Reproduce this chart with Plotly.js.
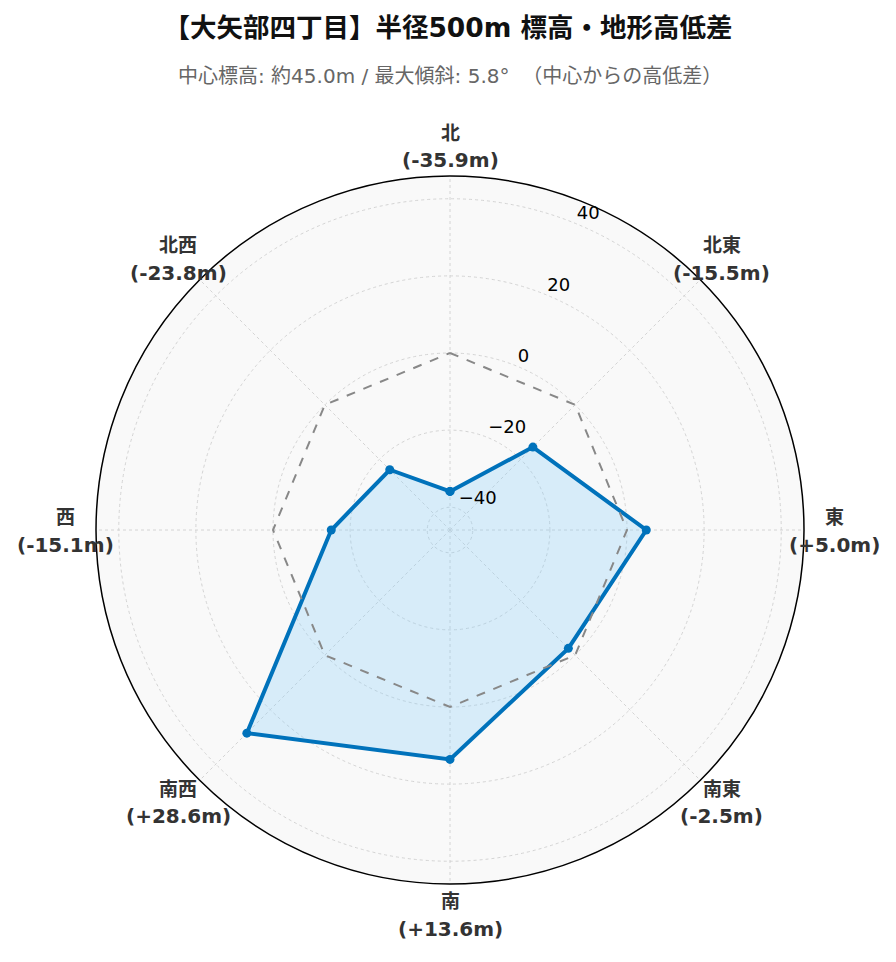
<!DOCTYPE html>
<html>
<head>
<meta charset="utf-8">
<script src="https://cdn.plot.ly/plotly-3.0.1.min.js"></script>
<style>html,body{margin:0;padding:0;background:#fff;}</style>
</head>
<body>
<div id="chart" style="width:896px;height:962px;"></div>
<script>
const directions = ["北", "北東", "東", "南東", "南", "南西", "西", "北西"];
const elevDiff = [-35.9, -15.5, 5.0, -2.5, 13.6, 28.6, -15.1, -23.8];
const reference = [0, 0, 0, 0, 0, 0, 0, 0];
const radialTicks = [-40, -20, 0, 20, 40];
const radialTickText = ["−40", "−20", "0", "20", "40"];

const rMax = 45.9;
const step = 360 / directions.length;
const thetaDeg = directions.map((d, i) => i * step);
const valueLabels = elevDiff.map(v => "(" + (v >= 0 ? "+" : "") + v.toFixed(1) + "m)");
const thetaClosed = thetaDeg.concat([thetaDeg[0]]);
const rClosed = elevDiff.concat([elevDiff[0]]);
const refClosed = reference.concat([reference[0]]);
const tickLabelAngle = step / 2;

const traces = [
  {
    type: "scatterpolar",
    r: rClosed,
    theta: thetaClosed,
    mode: "lines+markers",
    fill: "toself",
    fillcolor: "rgba(135,206,250,0.3)",
    line: {color: "#0072BB", width: 4},
    marker: {color: "#0072BB", size: 9},
    showlegend: false
  },
  {
    type: "scatterpolar",
    r: refClosed,
    theta: thetaClosed,
    mode: "lines",
    line: {color: "#888888", width: 2, dash: "dash"},
    hoverinfo: "skip",
    showlegend: false
  },
  {
    type: "scatterpolar",
    r: radialTicks,
    theta: radialTicks.map(() => tickLabelAngle),
    mode: "text",
    text: radialTickText,
    textposition: "top right",
    textfont: {family: "DejaVu Sans", size: 18, color: "#000000"},
    cliponaxis: false,
    hoverinfo: "skip",
    showlegend: false
  }
];

// direction labels placed just outside the polar circle (paper coords of the polar domain)
const labelK = 0.5424;
const annotations = [];
directions.forEach((d, i) => {
  const a = thetaDeg[i] * Math.PI / 180;
  const x = 0.5 + labelK * Math.sin(a);
  const y = 0.5 + labelK * Math.cos(a);
  annotations.push({
    text: "<b>" + d + "</b>", xref: "paper", yref: "paper", x: x, y: y,
    xanchor: "center", yanchor: "middle", yshift: 14.5, showarrow: false,
    font: {family: "Noto Sans CJK JP", size: 19, color: "#333333"}
  });
  annotations.push({
    text: "<b>" + valueLabels[i] + "</b>", xref: "paper", yref: "paper", x: x, y: y,
    xanchor: "center", yanchor: "middle", yshift: -14.5, showarrow: false,
    font: {family: "DejaVu Sans", size: 20, color: "#333333"}
  });
});
annotations.push({
  text: "中心標高: 約45.0m / 最大傾斜: 5.8°  （中心からの高低差）",
  xref: "paper", yref: "paper", x: 0.5, y: 1,
  yshift: 100, xanchor: "center", yanchor: "middle", showarrow: false,
  font: {family: "DejaVu Sans, Noto Sans CJK JP", size: 20, color: "#666666"}
});

const layout = {
  width: 896,
  height: 962,
  paper_bgcolor: "#ffffff",
  margin: {l: 96, r: 92, t: 176, b: 78},
  font: {family: "DejaVu Sans, Noto Sans CJK JP, sans-serif"},
  title: {
    text: "<b>【大矢部四丁目】半径500m 標高・地形高低差</b>",
    x: 0.5, xanchor: "center", y: 0.971, yanchor: "middle",
    font: {family: "DejaVu Sans, Noto Sans CJK JP", size: 26.5, color: "#111111"}
  },
  annotations: annotations,
  polar: {
    bgcolor: "#f9f9f9",
    domain: {x: [0, 1], y: [0, 1]},
    angularaxis: {
      type: "linear",
      thetaunit: "degrees",
      direction: "clockwise",
      rotation: 90,
      tickmode: "array",
      tickvals: thetaDeg,
      showline: true,
      linecolor: "#000000",
      linewidth: 1.5,
      showgrid: true,
      gridcolor: "#d4d4d4",
      griddash: "dot",
      gridwidth: 1,
      ticks: "",
      showticklabels: false
    },
    radialaxis: {
      range: [-rMax, rMax],
      angle: 67.5,
      showline: false,
      ticks: "",
      tickvals: radialTicks,
      showticklabels: false,
      showgrid: true,
      gridcolor: "#d4d4d4",
      griddash: "dot",
      gridwidth: 1
    }
  }
};

Plotly.newPlot("chart", traces, layout, {displayModeBar: false, staticPlot: true});
</script>
</body>
</html>
